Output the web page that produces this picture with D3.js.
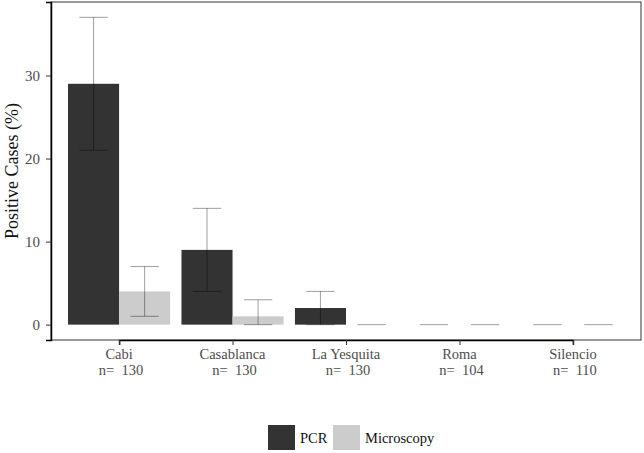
<!DOCTYPE html>
<html>
<head>
<meta charset="utf-8">
<script src="https://cdn.jsdelivr.net/npm/d3@7"></script>
<style>
  body { margin: 0; background: #fff; }
</style>
</head>
<body>
<script>
var sites = ['Cabi', 'Casablanca', 'La Yesquita', 'Roma', 'Silencio'];
var sampleSizes = [130, 130, 130, 104, 110];
var methods = ['PCR', 'Microscopy'];
var pcrValues = [29, 9, 2, 0, 0];
var pcrLower = [21, 4, 0, 0, 0];
var pcrUpper = [37, 14, 4, 0, 0];
var microValues = [4, 1, 0, 0, 0];
var microLower = [1, 0, 0, 0, 0];
var microUpper = [7, 3, 0, 0, 0];
var yTicks = [0, 10, 20, 30];

var colors = { 'PCR': '#333333', 'Microscopy': '#cccccc' };
var serif = "'Liberation Serif'";

var rows = [];
sites.forEach(function(s, i) {
    rows.push({ site: s, method: 'PCR', value: pcrValues[i], lo: pcrLower[i], hi: pcrUpper[i] });
    rows.push({ site: s, method: 'Microscopy', value: microValues[i], lo: microLower[i], hi: microUpper[i] });
});

var width = 644, height = 453;
var margin = { top: 2, left: 51, right: 3, bottom: 113 };
var pw = width - margin.left - margin.right;
var ph = height - margin.top - margin.bottom;

var svg = d3.select('body').append('svg')
    .attr('width', width)
    .attr('height', height);

// discrete axis, ggplot style expansion (0.6 on each side)
var unit = pw / (sites.length + 0.2);
var x = d3.scalePoint()
    .domain(sites)
    .range([margin.left + 0.6 * unit, margin.left + pw - 0.6 * unit]);

var x1 = d3.scaleBand()
    .domain(methods)
    .range([-0.45 * unit, 0.45 * unit])
    .padding(0);

var yMax = d3.max(pcrUpper.concat(microUpper));
var pad = yMax * 0.05;
var y = d3.scaleLinear()
    .domain([-pad, yMax + pad])
    .range([margin.top + ph, margin.top]);

var g = svg.append('g');

g.selectAll('rect.bar')
    .data(rows)
    .enter()
    .append('rect')
    .attr('class', 'bar')
    .attr('x', function(d) { return x(d.site) + x1(d.method) })
    .attr('y', function(d) { return y(d.value) })
    .attr('width', x1.bandwidth())
    .attr('height', function(d) { return y(0) - y(d.value) })
    .attr('fill', function(d) { return colors[d.method] });

var capHalf = 0.125 * unit;
var err = g.selectAll('g.err')
    .data(rows)
    .enter()
    .append('g')
    .attr('class', 'err')
    .attr('stroke', 'rgba(0,0,0,0.35)')
    .attr('stroke-width', 1.1);

function cx(d) { return x(d.site) + x1(d.method) + x1.bandwidth() / 2 }

err.append('line')
    .attr('x1', cx).attr('x2', cx)
    .attr('y1', function(d) { return y(d.lo) })
    .attr('y2', function(d) { return y(d.hi) });
err.append('line')
    .attr('x1', function(d) { return cx(d) - capHalf })
    .attr('x2', function(d) { return cx(d) + capHalf })
    .attr('y1', function(d) { return y(d.hi) })
    .attr('y2', function(d) { return y(d.hi) });
err.filter(function(d) { return d.hi !== d.lo })
    .append('line')
    .attr('x1', function(d) { return cx(d) - capHalf })
    .attr('x2', function(d) { return cx(d) + capHalf })
    .attr('y1', function(d) { return y(d.lo) })
    .attr('y2', function(d) { return y(d.lo) });

// panel border
svg.append('rect')
    .attr('x', margin.left)
    .attr('y', margin.top)
    .attr('width', pw)
    .attr('height', ph)
    .attr('fill', 'none')
    .attr('stroke', '#333')
    .attr('stroke-width', 1);

// y axis
var yAxis = svg.append('g')
    .attr('transform', 'translate(' + margin.left + ',0)')
    .call(d3.axisLeft(y).tickValues(yTicks).tickSize(5).tickPadding(6));
yAxis.select('.domain').attr('stroke', '#000').attr('stroke-width', 1.5);
yAxis.selectAll('.tick line').attr('stroke', '#333');
yAxis.selectAll('.tick text')
    .attr('fill', '#4d4d4d')
    .style('font-family', serif)
    .style('font-size', '15px');

// x axis
var xAxis = svg.append('g')
    .attr('transform', 'translate(0,' + (margin.top + ph) + ')')
    .call(d3.axisBottom(x).tickSize(5).tickFormat(''));
xAxis.select('.domain').attr('stroke', '#000').attr('stroke-width', 1.5);
xAxis.selectAll('.tick line').attr('stroke', '#333');

var lab = svg.append('g').selectAll('text')
    .data(sites)
    .enter()
    .append('text')
    .attr('text-anchor', 'middle')
    .attr('fill', '#4d4d4d')
    .style('font-family', serif)
    .style('font-size', '14.5px')
    .style('white-space', 'pre')
    .attr('x', function(d) { return x(d) });
lab.append('tspan')
    .attr('x', function(d) { return x(d) })
    .attr('y', margin.top + ph + 19)
    .text(function(d) { return d });
lab.append('tspan')
    .attr('x', function(d) { return x(d) + 2 })
    .attr('y', margin.top + ph + 35)
    .text(function(d, i) { return 'n=  ' + sampleSizes[i] });

// y title
svg.append('text')
    .attr('transform', 'translate(18,' + (margin.top + ph / 2) + ') rotate(-90)')
    .attr('text-anchor', 'middle')
    .attr('fill', '#111')
    .style('font-family', serif)
    .style('font-size', '18px')
    .text('Positive Cases (%)');

// legend
var legend = svg.append('g').attr('transform', 'translate(268,425)');
var lx = [0, 65];
methods.forEach(function(m, i) {
    legend.append('rect')
        .attr('x', lx[i])
        .attr('y', 0)
        .attr('width', 27)
        .attr('height', 25)
        .attr('fill', colors[m]);
    legend.append('text')
        .attr('x', lx[i] + 32)
        .attr('y', 18)
        .attr('fill', '#111')
        .style('font-family', serif)
        .style('font-size', '14.5px')
        .text(m);
});
</script>
</body>
</html>
